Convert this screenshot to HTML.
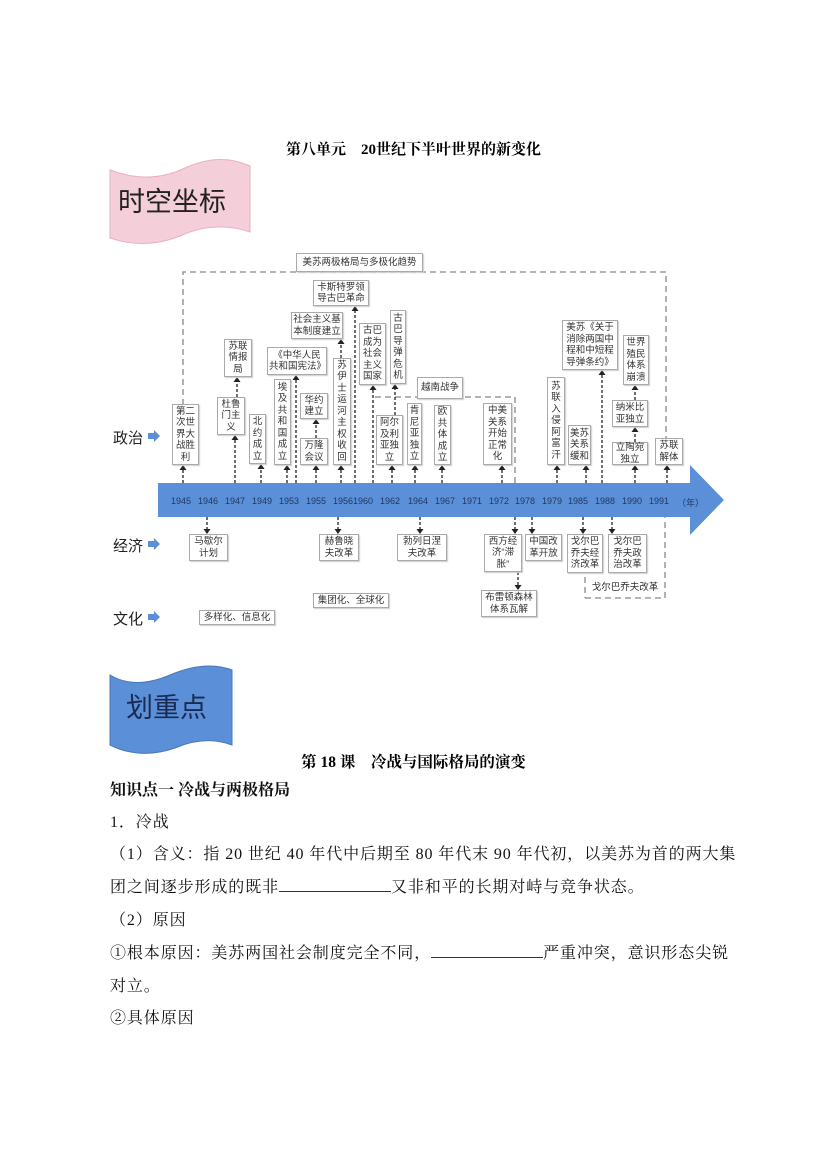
<!DOCTYPE html>
<html><head><meta charset="utf-8">
<style>
body{margin:0;background:#fff;}
#p{position:relative;width:827px;height:1169px;overflow:hidden;font-family:"Liberation Sans","Noto Sans CJK SC",sans-serif;}
.b{position:absolute;border:1px solid #aaa;box-shadow:1px 1px 1px #ccc;background:#fff;font-size:9.5px;line-height:11.5px;text-align:center;color:#333;box-sizing:border-box;display:flex;align-items:center;justify-content:center;padding:0 1px;}
.y{position:absolute;top:496px;font-size:9px;color:#1f3864;}
.t{position:absolute;left:110px;font-family:"Liberation Serif","Noto Serif CJK SC",serif;font-size:16px;color:#111;white-space:nowrap;letter-spacing:0.9px;}
.lab{position:absolute;font-size:15px;color:#222;}
.u{display:inline-block;border-bottom:1px solid #333;height:14px;vertical-align:baseline;}
</style></head><body><div id="p">
<div style="position:absolute;top:138px;width:827px;text-align:center;font-family:'Liberation Serif','Noto Serif CJK SC',serif;font-weight:bold;font-size:15px;">第八单元　20世纪下半叶世界的新变化</div>
<svg style="position:absolute;left:0;top:0" width="827" height="1169">
<path d="M110,170 Q150,185 185,168 Q220,152 250,166 L250,232 Q215,220 180,236 Q145,250 110,238 Z" fill="#f4cfd9" stroke="#e9b0c0"/>
<path d="M110,675 Q135,690 170,675 Q205,660 232,670 L232,745 Q205,735 175,748 Q140,760 110,745 Z" fill="#5b8fd8" stroke="#4a78b8"/>
<polygon points="158,483 690,483 690,465 724,500 690,535 690,517 158,517" fill="#5b8fd8"/>
<g stroke="#888" stroke-width="1.3" stroke-dasharray="6,4" fill="none">
<path d="M183,405 V272 H666 V438"/>
<path d="M375,397 H515 V483"/>
<path d="M585,598 H665 V517"/>
<path d="M585,577 V598"/>
</g>
<g stroke="#222" stroke-width="1.3" stroke-dasharray="3,2" fill="none">
<path d="M183,483V466M235,483V436M237,397V378M261,483V465M287,483V466M296,483V376M316,483V466M316,438V420M341,483V466M341,358V340M355,483V307M373,483V386M392,483V466M395,415V385M415,483V466M442,483V466M502,483V466M557,483V466M586,483V466M602,483V371M635,483V466M635,442V428M635,400V386M667,483V466"/>
<path d="M207,517V533M338,517V533M420,517V533M515,517V533M532,517V533M583,517V533M612,517V533M518,572V589"/>
</g>
<g fill="#222">
<path d="M-3.5,5 L0,0 L3.5,5Z" transform="translate(183,465)"/>
<path d="M-3.5,5 L0,0 L3.5,5Z" transform="translate(235,435)"/><path d="M-3.5,5 L0,0 L3.5,5Z" transform="translate(237,377)"/>
<path d="M-3.5,5 L0,0 L3.5,5Z" transform="translate(261,464)"/><path d="M-3.5,5 L0,0 L3.5,5Z" transform="translate(287,465)"/>
<path d="M-3.5,5 L0,0 L3.5,5Z" transform="translate(296,375)"/><path d="M-3.5,5 L0,0 L3.5,5Z" transform="translate(316,465)"/>
<path d="M-3.5,5 L0,0 L3.5,5Z" transform="translate(316,419)"/><path d="M-3.5,5 L0,0 L3.5,5Z" transform="translate(341,465)"/>
<path d="M-3.5,5 L0,0 L3.5,5Z" transform="translate(341,339)"/><path d="M-3.5,5 L0,0 L3.5,5Z" transform="translate(355,306)"/>
<path d="M-3.5,5 L0,0 L3.5,5Z" transform="translate(373,385)"/><path d="M-3.5,5 L0,0 L3.5,5Z" transform="translate(392,465)"/>
<path d="M-3.5,5 L0,0 L3.5,5Z" transform="translate(395,384)"/><path d="M-3.5,5 L0,0 L3.5,5Z" transform="translate(415,465)"/>
<path d="M-3.5,5 L0,0 L3.5,5Z" transform="translate(442,465)"/><path d="M-3.5,5 L0,0 L3.5,5Z" transform="translate(502,465)"/>
<path d="M-3.5,5 L0,0 L3.5,5Z" transform="translate(557,465)"/><path d="M-3.5,5 L0,0 L3.5,5Z" transform="translate(586,465)"/>
<path d="M-3.5,5 L0,0 L3.5,5Z" transform="translate(602,370)"/><path d="M-3.5,5 L0,0 L3.5,5Z" transform="translate(635,465)"/>
<path d="M-3.5,5 L0,0 L3.5,5Z" transform="translate(635,427)"/><path d="M-3.5,5 L0,0 L3.5,5Z" transform="translate(635,385)"/>
<path d="M-3.5,5 L0,0 L3.5,5Z" transform="translate(667,465)"/>
<path d="M-3.5,-5 L0,0 L3.5,-5Z" transform="translate(207,534)"/><path d="M-3.5,-5 L0,0 L3.5,-5Z" transform="translate(338,534)"/>
<path d="M-3.5,-5 L0,0 L3.5,-5Z" transform="translate(420,534)"/><path d="M-3.5,-5 L0,0 L3.5,-5Z" transform="translate(515,534)"/>
<path d="M-3.5,-5 L0,0 L3.5,-5Z" transform="translate(532,534)"/><path d="M-3.5,-5 L0,0 L3.5,-5Z" transform="translate(583,534)"/>
<path d="M-3.5,-5 L0,0 L3.5,-5Z" transform="translate(612,534)"/><path d="M-3.5,-5 L0,0 L3.5,-5Z" transform="translate(518,590)"/>
</g>
<g fill="#5b8fd8"><path d="M148,433 h6 v-3 l6,6 l-6,6 v-3 h-6z"/><path d="M148,541 h6 v-3 l6,6 l-6,6 v-3 h-6z"/><path d="M148,614 h6 v-3 l6,6 l-6,6 v-3 h-6z"/></g>
</svg>
<div style="position:absolute;left:118px;top:180px;font-size:27px;color:#222;">时空坐标</div>
<div style="position:absolute;left:126px;top:686px;font-size:27px;color:#1a2a50;">划重点</div>
<div class="lab" style="left:113px;top:427px">政治</div>
<div class="lab" style="left:113px;top:535px">经济</div>
<div class="lab" style="left:113px;top:608px">文化</div>

<div class="y" style="left:171px">1945</div><div class="y" style="left:198px">1946</div><div class="y" style="left:225px">1947</div><div class="y" style="left:252px">1949</div><div class="y" style="left:279px">1953</div><div class="y" style="left:306px">1955</div><div class="y" style="left:333px">19561960</div><div class="y" style="left:380px">1962</div><div class="y" style="left:408px">1964</div><div class="y" style="left:435px">1967</div><div class="y" style="left:462px">1971</div><div class="y" style="left:489px">1972</div><div class="y" style="left:515px">1978</div><div class="y" style="left:542px">1979</div><div class="y" style="left:568px">1985</div><div class="y" style="left:595px">1988</div><div class="y" style="left:622px">1990</div><div class="y" style="left:649px">1991</div><div class="y" style="left:677px">（年）</div>

<div class="b" style="left:296px;top:253px;width:127px;height:19px">美苏两极格局与多极化趋势</div>
<div class="b" style="left:172px;top:404px;width:27px;height:61px">第二次世界大战胜利</div>
<div class="b" style="left:224px;top:339px;width:28px;height:38px">苏联情报局</div>
<div class="b" style="left:217px;top:397px;width:28px;height:38px">杜鲁门主义</div>
<div class="b" style="left:249px;top:414px;width:17px;height:50px">北约成立</div>
<div class="b" style="left:267px;top:347px;width:60px;height:28px">《中华人民共和国宪法》</div>
<div class="b" style="left:274px;top:379px;width:17px;height:86px">埃及共和国成立</div>
<div class="b" style="left:300px;top:393px;width:28px;height:26px">华约建立</div>
<div class="b" style="left:300px;top:438px;width:28px;height:27px">万隆会议</div>
<div class="b" style="left:291px;top:312px;width:52px;height:27px">社会主义基本制度建立</div>
<div class="b" style="left:333px;top:358px;width:18px;height:107px">苏伊士运河主权收回</div>
<div class="b" style="left:313px;top:280px;width:56px;height:26px">卡斯特罗领导古巴革命</div>
<div class="b" style="left:359px;top:323px;width:27px;height:62px">古巴成为社会主义国家</div>
<div class="b" style="left:390px;top:310px;width:16px;height:74px">古巴导弹危机</div>
<div class="b" style="left:417px;top:377px;width:46px;height:22px">越南战争</div>
<div class="b" style="left:376px;top:415px;width:27px;height:50px">阿尔及利亚独立</div>
<div class="b" style="left:407px;top:403px;width:15px;height:62px">肯尼亚独立</div>
<div class="b" style="left:434px;top:405px;width:17px;height:60px">欧共体成立</div>
<div class="b" style="left:483px;top:403px;width:29px;height:62px">中美关系开始正常化</div>
<div class="b" style="left:547px;top:377px;width:18px;height:88px">苏联入侵阿富汗</div>
<div class="b" style="left:568px;top:425px;width:23px;height:40px">美苏关系缓和</div>
<div class="b" style="left:562px;top:320px;width:56px;height:50px">美苏《关于消除两国中程和中短程导弹条约》</div>
<div class="b" style="left:623px;top:335px;width:26px;height:50px">世界殖民体系崩溃</div>
<div class="b" style="left:612px;top:400px;width:36px;height:27px">纳米比亚独立</div>
<div class="b" style="left:612px;top:442px;width:36px;height:23px">立陶宛独立</div>
<div class="b" style="left:655px;top:438px;width:28px;height:27px">苏联解体</div>

<div class="b" style="left:189px;top:534px;width:39px;height:27px">马歇尔计划</div>
<div class="b" style="left:319px;top:534px;width:40px;height:27px">赫鲁晓夫改革</div>
<div class="b" style="left:397px;top:534px;width:50px;height:27px">勃列日涅夫改革</div>
<div class="b" style="left:484px;top:534px;width:38px;height:38px">西方经济“滞胀”</div>
<div class="b" style="left:525px;top:534px;width:37px;height:27px">中国改革开放</div>
<div class="b" style="left:567px;top:534px;width:36px;height:39px">戈尔巴乔夫经济改革</div>
<div class="b" style="left:608px;top:534px;width:39px;height:39px">戈尔巴乔夫政治改革</div>
<div class="b" style="left:589px;top:580px;width:72px;height:16px;border:none;box-shadow:none">戈尔巴乔夫改革</div>
<div class="b" style="left:481px;top:590px;width:56px;height:27px">布雷顿森林体系瓦解</div>
<div class="b" style="left:313px;top:593px;width:76px;height:15px">集团化、全球化</div>
<div class="b" style="left:199px;top:610px;width:76px;height:15px">多样化、信息化</div>

<div style="position:absolute;top:750px;width:827px;text-align:center;font-family:'Liberation Serif','Noto Serif CJK SC',serif;font-weight:bold;font-size:15.5px;">第 18 课　冷战与国际格局的演变</div>
<div class="t" style="top:777px;font-weight:bold;letter-spacing:0">知识点一 冷战与两极格局</div>
<div class="t" style="top:809px">1．冷战</div>
<div class="t" style="top:841px">（1）含义：指 20 世纪 40 年代中后期至 80 年代末 90 年代初，以美苏为首的两大集</div>
<div class="t" style="top:874px">团之间逐步形成的既非<span class="u" style="width:112px"></span>又非和平的长期对峙与竞争状态。</div>
<div class="t" style="top:907px">（2）原因</div>
<div class="t" style="top:940px">①根本原因：美苏两国社会制度完全不同，<span class="u" style="width:112px"></span>严重冲突，意识形态尖锐</div>
<div class="t" style="top:973px">对立。</div>
<div class="t" style="top:1005px">②具体原因</div>
</div></body></html>
